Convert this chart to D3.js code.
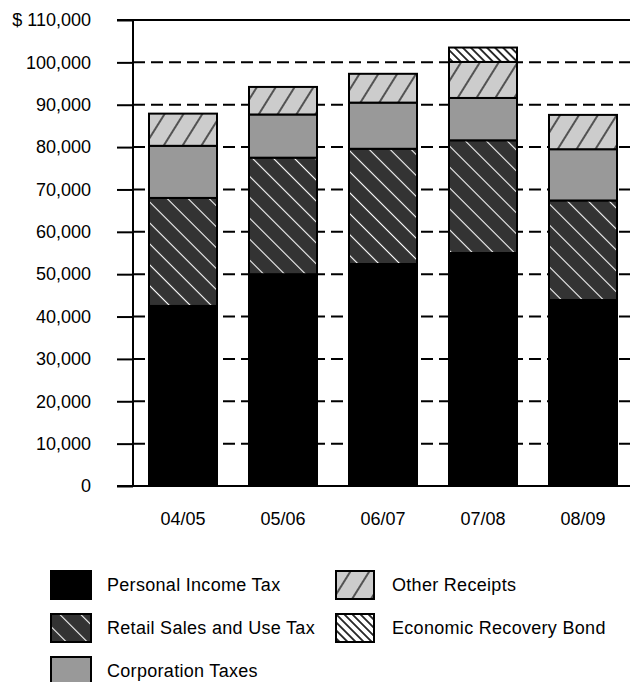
<!DOCTYPE html>
<html>
<head>
<meta charset="utf-8">
<script src="https://cdn.jsdelivr.net/npm/d3@7"></script>
<style>
  html, body { margin: 0; padding: 0; background: #fff; }
  svg { display: block; }
  text { font-family: "Liberation Sans", Arial, Helvetica, sans-serif; fill: #000; }
</style>
</head>
<body>
<div id="chart"></div>
<script>
// ---- Data ----
const categories = ["04/05", "05/06", "06/07", "07/08", "08/09"];
const personalIncomeTax    = [42500, 50000, 52400, 55000, 43900];
const retailSalesUseTax    = [25500, 27500, 27200, 26600, 23500];
const corporationTaxes     = [12300, 10200, 10900, 10000, 12100];
const otherReceipts        = [7600, 6500, 6800, 8500, 8100];
const economicRecoveryBond = [0, 0, 0, 3400, 0];
const seriesNames = ["Personal Income Tax", "Retail Sales and Use Tax", "Corporation Taxes", "Other Receipts", "Economic Recovery Bond"];
const yTicks = [0, 10000, 20000, 30000, 40000, 50000, 60000, 70000, 80000, 90000, 100000, 110000];

const keys = ["pit", "retail", "corp", "other", "erb"];
const seriesArrays = [personalIncomeTax, retailSalesUseTax, corporationTaxes, otherReceipts, economicRecoveryBond];
const table = categories.map((c, i) => {
  const row = { category: c };
  keys.forEach((k, j) => row[k] = seriesArrays[j][i]);
  return row;
});

const W = 632, H = 682;
const svg = d3.select("#chart").append("svg").attr("width", W).attr("height", H);
const FONT = '"Liberation Sans", Arial, sans-serif';

// ---- Patterns ----
const defs = svg.append("defs");
function linePattern(id, bg, stroke, spacing, angle, sw) {
  const p = defs.append("pattern")
    .attr("id", id)
    .attr("patternUnits", "userSpaceOnUse")
    .attr("width", spacing).attr("height", spacing)
    .attr("patternTransform", `rotate(${angle})`);
  p.append("rect").attr("width", spacing).attr("height", spacing).attr("fill", bg);
  p.append("line").attr("x1", spacing / 2).attr("y1", -1).attr("x2", spacing / 2).attr("y2", spacing + 1)
    .attr("stroke", stroke).attr("stroke-width", sw);
}
linePattern("pat-retail", "#333333", "#ffffff", 14.8, -45, 1.1);
linePattern("pat-other", "#cccccc", "#000000", 16, 32, 1.2);
linePattern("pat-erb", "#ffffff", "#000000", 5.7, -45, 1.6);

const fills = {
  pit: "#000000",
  retail: "url(#pat-retail)",
  corp: "#999999",
  other: "url(#pat-other)",
  erb: "url(#pat-erb)"
};

// ---- Scales ----
const axisX = 133;
const y = d3.scaleLinear().domain([0, 110000]).range([486, 20]);
const x = d3.scaleBand().domain(categories).range([axisX, 633]).paddingInner(0.32).paddingOuter(0.16);

// ---- Grid lines ----
const grid = svg.append("g");
yTicks.forEach(t => {
  const solid = (t === 0 || t === 110000);
  grid.append("line")
    .attr("x1", solid ? 117 : axisX).attr("x2", 630)
    .attr("y1", y(t)).attr("y2", y(t))
    .attr("stroke", "#000").attr("stroke-width", 2)
    .attr("stroke-dasharray", solid ? null : "12,6");
});

// ---- Y axis (ticks to the left) ----
const yAxis = d3.axisLeft(y).tickValues(yTicks).tickSize(16).tickPadding(26)
  .tickFormat(d => d === 110000 ? "$ " + d3.format(",")(d) : d3.format(",")(d));
const gy = svg.append("g").attr("transform", `translate(${axisX},0)`).call(yAxis);
gy.select(".domain").remove();
gy.selectAll(".tick line").attr("stroke", "#000").attr("stroke-width", 2);
gy.selectAll(".tick text")
  .style("font-size", "18px").style("font-family", FONT)
  .attr("fill", "#000");
svg.append("line").attr("x1", axisX).attr("x2", axisX).attr("y1", y(110000) - 1).attr("y2", y(0) + 1)
  .attr("stroke", "#000").attr("stroke-width", 2);

// ---- Bars ----
const stack = d3.stack().keys(keys)(table);
const bars = svg.append("g");
stack.forEach(layer => {
  bars.append("g").selectAll("rect")
    .data(layer.filter(d => d[1] - d[0] > 0))
    .join("rect")
    .attr("x", d => x(d.data.category))
    .attr("width", x.bandwidth())
    .attr("y", d => y(d[1]))
    .attr("height", d => y(d[0]) - y(d[1]))
    .attr("fill", fills[layer.key])
    .attr("stroke", "#000").attr("stroke-width", 2);
});

// ---- X axis labels ----
const xAxis = d3.axisBottom(x).tickSize(0).tickPadding(26);
const gx = svg.append("g").attr("transform", `translate(0,${y(0)})`).call(xAxis);
gx.select(".domain").remove();
gx.selectAll(".tick text")
  .style("font-size", "18px").style("font-family", FONT)
  .attr("fill", "#000");

// ---- Legend ----
const legendItems = [
  { key: "pit", col: 0, row: 0 },
  { key: "retail", col: 0, row: 1 },
  { key: "corp", col: 0, row: 2 },
  { key: "other", col: 1, row: 0 },
  { key: "erb", col: 1, row: 1 }
];
const colX = [51, 336];
const legend = svg.append("g");
legendItems.forEach(it => {
  const gx0 = colX[it.col], gy0 = 571 + it.row * 43;
  legend.append("rect").attr("x", gx0).attr("y", gy0).attr("width", it.col === 0 ? 40 : 38).attr("height", 28)
    .attr("fill", fills[it.key]).attr("stroke", "#000").attr("stroke-width", 2);
  legend.append("text").attr("x", gx0 + 56).attr("y", gy0 + 14)
    .attr("dy", "0.35em").style("font-size", "18px").style("font-family", FONT)
    .style("letter-spacing", "0.3px")
    .text(seriesNames[keys.indexOf(it.key)]);
});
</script>
</body>
</html>
